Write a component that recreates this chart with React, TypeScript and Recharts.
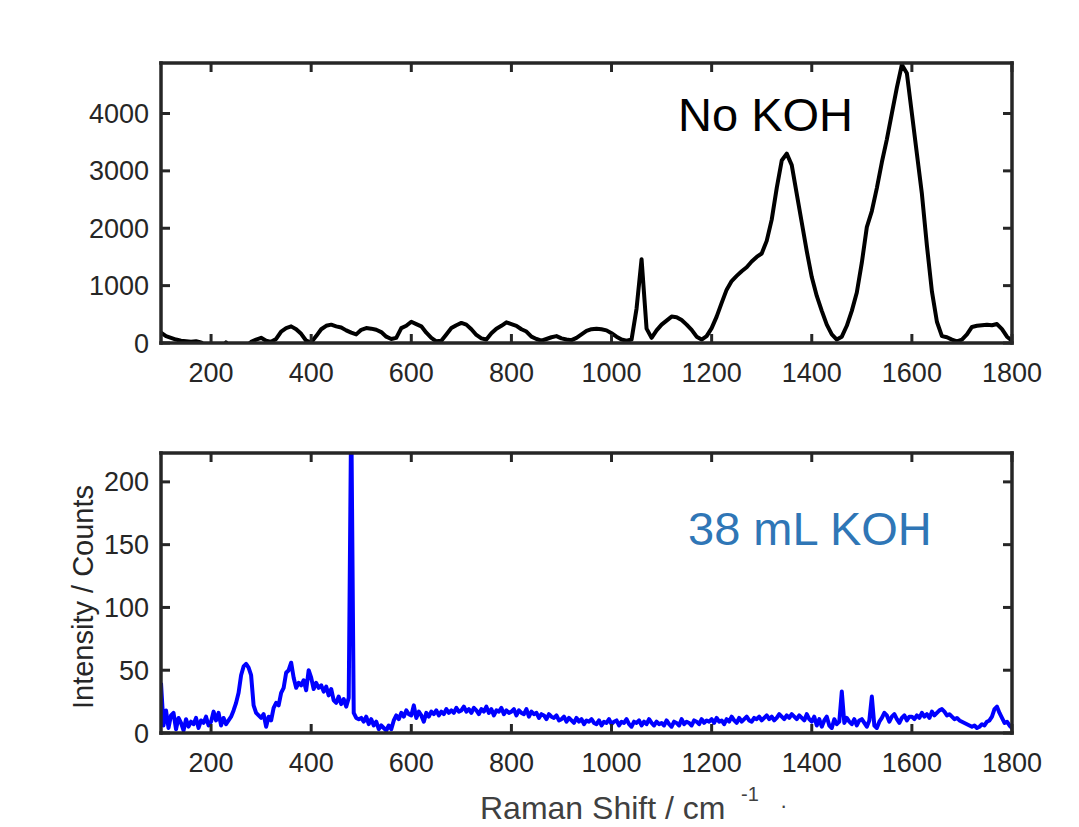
import React from "react";
import { LineChart, Line, XAxis, YAxis } from "recharts";

// Raman spectra
const shiftTicks = [200, 400, 600, 800, 1000, 1200, 1400, 1600, 1800];
const topTicks = [0, 1000, 2000, 3000, 4000];
const bottomTicks = [0, 50, 100, 150, 200];

// No KOH, 100..1800 cm-1 every 10
const TOP_START = 100;
const TOP_STEP = 10;
const noKohCounts = [
  180, 120, 90, 60, 40, 30, 20, 30, 10, -60,
  -150, -200, -120, 10, -150, -250, -200, -60, 20, 60,
  90, 40, 20, 70, 200, 260, 290, 240, 160, 40,
  10, 120, 240, 300, 320, 290, 270, 220, 180, 150,
  230, 260, 250, 230, 190, 110, 70, 90, 260, 300,
  370, 330, 290, 180, 90, 30, 40, 150, 260, 310,
  350, 320, 240, 140, 80, 60, 170, 250, 300, 360,
  330, 300, 240, 200, 110, 70, 40, 70, 100, 120,
  80, 60, 50, 90, 150, 210, 240, 250, 240, 220,
  170, 110, 60, 40, 60, 600, 1460, 250, 90, 220,
  320, 390, 460, 450, 400, 320, 230, 110, 60, 120,
  260, 460, 700, 930, 1080, 1170, 1250, 1320, 1420, 1500,
  1560, 1780, 2150, 2700, 3180, 3300, 3100, 2600, 2100, 1600,
  1150, 820, 560, 320, 150, 60, 110, 300, 560, 880,
  1400, 2020, 2300, 2700, 3150, 3550, 4000, 4450, 4850, 4700,
  4000, 3300, 2600, 1700, 900, 370, 120, 100, 60, 30,
  60, 150, 280, 300, 310, 320, 310, 330, 240, 110, 40,
];

// 38 mL KOH, 100..1800 cm-1 every 5
const BOTTOM_START = 100;
const BOTTOM_STEP = 5;
const kohCounts = [
  40, 6, 18, 4, 14, 16, 3, 12, 8, 2, 11, 5, 9, 7, 12, 4, 10, 8, 13, 6,
  9, 17, 10, 16, 6, 12, 7, 10, 13, 18, 24, 32, 46, 53, 55, 52, 46, 22, 16, 14,
  12, 15, 5, 13, 10, 20, 24, 22, 32, 36, 48, 50, 56, 44, 36, 40, 38, 42, 34, 50,
  44, 35, 40, 36, 38, 33, 37, 30, 35, 26, 24, 29, 23, 27, 21, 28, 260, 16, 12, 11,
  12, 9, 13, 7, 11, 6, 9, 3, 6, 4, 2, 6, 3, 10, 14, 11, 16, 13, 18, 15,
  14, 22, 12, 17, 14, 9, 16, 13, 17, 15, 18, 14, 17, 15, 19, 16, 18, 16, 20, 17,
  18, 21, 17, 19, 16, 20, 18, 15, 19, 17, 21, 16, 19, 14, 18, 17, 20, 15, 18, 16,
  17, 19, 14, 18, 16, 15, 19, 13, 17, 15, 16, 12, 15, 14, 11, 15, 13, 12, 14, 10,
  11, 13, 9, 12, 10, 8, 12, 9, 11, 7, 10, 9, 11, 8, 7, 10, 6, 9, 8, 11,
  7, 9, 10, 6, 9, 8, 11, 7, 5, 9, 8, 10, 6, 9, 7, 11, 8, 6, 9, 7,
  8, 6, 10, 7, 5, 9, 8, 6, 11, 7, 9, 8, 6, 10, 9, 7, 11, 8, 10, 9,
  11, 8, 12, 9, 10, 7, 11, 9, 13, 10, 8, 12, 9, 11, 13, 10, 9, 12, 11, 13,
  10, 12, 14, 11, 13, 10, 12, 15, 13, 11, 14, 12, 15, 13, 11, 14, 12, 10, 15, 11,
  9, 13, 6, 11, 5, 10, 13, 6, 4, 11, 7, 9, 33, 8, 12, 9, 7, 11, 6, 10,
  11, 8, 5, 10, 29, 6, 4, 9, 12, 16, 14, 9, 13, 15, 11, 8, 12, 14, 10, 13,
  13, 11, 14, 12, 16, 13, 15, 12, 17, 14, 16, 18, 19, 17, 14, 15, 13, 11, 12, 10,
  9, 8, 7, 6, 5, 6, 4, 5, 7, 6, 9, 10, 13, 19, 21, 16, 12, 8, 9, 6, 4,
];

const topData = noKohCounts.map((c, i) => ({ shift: TOP_START + i * TOP_STEP, counts: c }));
const bottomData = kohCounts.map((c, i) => ({ shift: BOTTOM_START + i * BOTTOM_STEP, counts: c }));

const FONT = '"Liberation Sans", Arial, Helvetica, sans-serif';
const AXIS = "#262626";
const TICK_LEN = 9;
const TICK_FONT = 27;

const BottomTick = ({ x, y, payload }: any) => (
  <g>
    <line x1={x} x2={x} y1={y} y2={y - TICK_LEN} stroke={AXIS} strokeWidth={3} />
    <text x={x} y={y + 39} textAnchor="middle" fontSize={TICK_FONT} fill={AXIS} fontFamily={FONT}>
      {payload.value}
    </text>
  </g>
);
const TopTick = ({ x, y }: any) => (
  <line x1={x} x2={x} y1={y} y2={y + TICK_LEN} stroke={AXIS} strokeWidth={3} />
);
const LeftTick = ({ x, y, payload }: any) => (
  <g>
    <line x1={x} x2={x + TICK_LEN} y1={y} y2={y} stroke={AXIS} strokeWidth={3} />
    <text x={x - 12} y={y + 9.5} textAnchor="end" fontSize={TICK_FONT} fill={AXIS} fontFamily={FONT}>
      {payload.value}
    </text>
  </g>
);
const RightTick = ({ x, y }: any) => (
  <line x1={x} x2={x - TICK_LEN} y1={y} y2={y} stroke={AXIS} strokeWidth={3} />
);

const axisLine = { stroke: AXIS, strokeWidth: 3.5, strokeLinecap: "square" as const };

// box of four axes; each is 1px thick so Recharts draws it
const boxAxes = (yDomain: number[], yTicks: number[]) => [
  <XAxis
    key="xb"
    dataKey="shift"
    type="number"
    domain={[100, 1800]}
    ticks={shiftTicks}
    allowDataOverflow
    height={1}
    tickSize={0}
    tickMargin={0}
    interval={0}
    tickLine={false}
    axisLine={axisLine}
    tick={<BottomTick />}
  />,
  <XAxis
    key="xt"
    xAxisId="top"
    orientation="top"
    dataKey="shift"
    type="number"
    domain={[100, 1800]}
    ticks={shiftTicks}
    allowDataOverflow
    height={1}
    tickSize={0}
    tickMargin={0}
    interval={0}
    tickLine={false}
    axisLine={axisLine}
    tick={<TopTick />}
  />,
  <YAxis
    key="yl"
    type="number"
    domain={yDomain}
    ticks={yTicks}
    allowDataOverflow
    width={1}
    tickSize={0}
    tickMargin={0}
    interval={0}
    tickLine={false}
    axisLine={axisLine}
    tick={<LeftTick />}
  />,
  <YAxis
    key="yr"
    yAxisId="right"
    orientation="right"
    type="number"
    domain={yDomain}
    ticks={yTicks}
    allowDataOverflow
    width={1}
    tickSize={0}
    tickMargin={0}
    interval={0}
    tickLine={false}
    axisLine={axisLine}
    tick={<RightTick />}
  />,
];

export default function App() {
  return (
    <div style={{ position: "absolute", left: 0, top: 0, width: 1079, height: 827, background: "#fff" }}>
      <div style={{ position: "absolute", left: 0, top: 0 }}>
        <LineChart
          width={1079}
          height={400}
          data={topData}
          margin={{ top: 62, right: 66, bottom: 56, left: 160 }}
        >
          {boxAxes([0, 4880], topTicks)}
          <Line
            dataKey="counts"
            stroke="#000000"
            strokeWidth={4}
            dot={false}
            isAnimationActive={false}
            strokeLinejoin="round"
          />
          <text x={678} y={131} fontSize={47} fill="#000" fontFamily={FONT}>
            No KOH
          </text>
        </LineChart>
      </div>
      <div style={{ position: "absolute", left: 0, top: 400 }}>
        <LineChart
          width={1079}
          height={427}
          data={bottomData}
          margin={{ top: 52, right: 66, bottom: 93, left: 160 }}
        >
          {boxAxes([0, 223], bottomTicks)}
          <Line
            dataKey="counts"
            stroke="#0000ff"
            strokeWidth={4}
            dot={false}
            isAnimationActive={false}
            strokeLinejoin="round"
          />
          <text x={688} y={145} fontSize={47} fill="#2f76b6" fontFamily={FONT}>
            38 mL KOH
          </text>
          <text
            x={93}
            y={197}
            transform="rotate(-90, 93, 197)"
            textAnchor="middle"
            fontSize={29}
            fill={AXIS}
            fontFamily={FONT}
          >
            Intensity / Counts
          </text>
          <text x={480} y={419} fontSize={32} fill="#404040" fontFamily={FONT}>
            Raman Shift / cm
          </text>
          <text x={741} y={401} fontSize={20} fill="#404040" fontFamily={FONT}>
            -1
          </text>
          <text x={780} y={413} fontSize={22} fill="#404040" fontFamily={FONT}>
            ·
          </text>
        </LineChart>
      </div>
    </div>
  );
}
